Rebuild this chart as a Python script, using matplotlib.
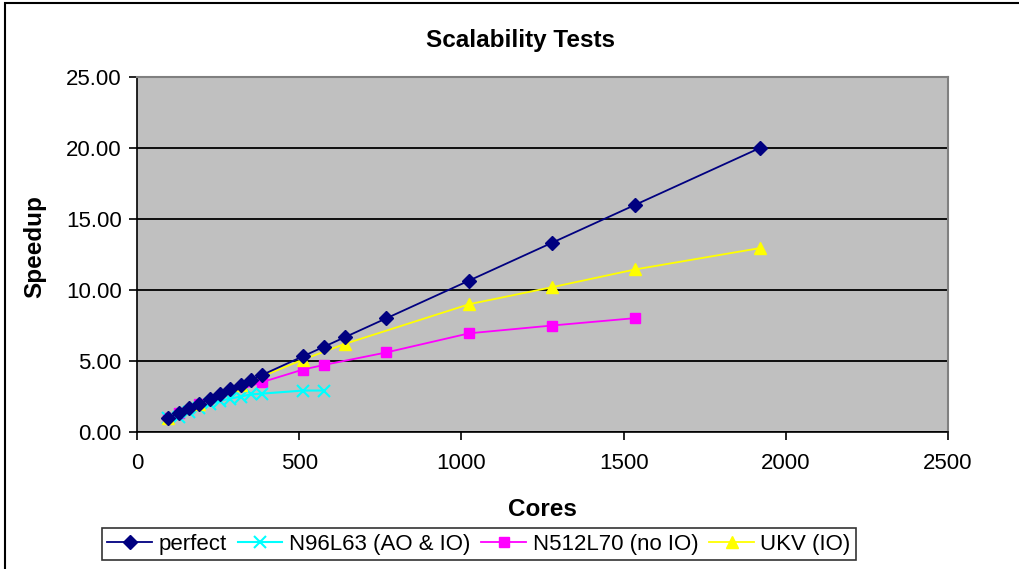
import matplotlib
matplotlib.use('Agg')
import matplotlib.pyplot as plt
from matplotlib.patches import Rectangle
from matplotlib.ticker import FormatStrFormatter, MultipleLocator

plt.rcParams['font.family'] = ['Liberation Sans', 'DejaVu Sans']

# data
perfect_cores = [96, 128, 160, 192, 224, 256, 288, 320, 352, 384, 512, 576, 640, 768, 1024, 1280, 1536, 1920]
perfect_speedup = [c / 96 for c in perfect_cores]

n96_cores = [96, 128, 160, 192, 224, 256, 288, 320, 352, 384, 512, 576]
n96_speedup = [1.00, 1.05, 1.40, 1.70, 1.95, 2.20, 2.35, 2.50, 2.65, 2.70, 2.92, 2.92]

n512_cores = [96, 128, 192, 384, 512, 576, 768, 1024, 1280, 1536]
n512_speedup = [1.00, 1.32, 2.00, 3.50, 4.40, 4.72, 5.60, 6.95, 7.50, 8.02]

ukv_cores = [96, 192, 320, 512, 640, 1024, 1280, 1536, 1920]
ukv_speedup = [1.00, 1.98, 3.30, 5.10, 6.20, 9.00, 10.20, 11.45, 12.95]

W, H = 1019, 569
fig = plt.figure(figsize=(W / 100, H / 100), dpi=100)
ax = fig.add_axes([137 / W, 1 - 432 / H, (948 - 137) / W, (432 - 77) / H])
ax.set_facecolor('#C0C0C0')

# outer chart border
fig.patches.append(Rectangle((5 / W, -0.01), 1.02, 1 - 3 / H + 0.01, transform=fig.transFigure,
                             fill=False, edgecolor='black', linewidth=1.5))

ax.plot(perfect_cores, perfect_speedup, color='#000080', marker='D', markersize=7, linewidth=1.3,
        label='perfect', zorder=5)
ax.plot(n96_cores, n96_speedup, color='#00FFFF', marker='x', markersize=8, markeredgewidth=1.5,
        linewidth=1.5, label='N96L63 (AO & IO)', zorder=4)
ax.plot(n512_cores, n512_speedup, color='#FF00FF', marker='s', markersize=7, linewidth=1.3,
        label='N512L70 (no IO)', zorder=3)
ax.plot(ukv_cores, ukv_speedup, color='#FFFF00', marker='^', markersize=9, linewidth=1.3,
        label='UKV (IO)', zorder=4)

ax.set_xlim(0, 2500)
ax.set_ylim(0, 25)
ax.xaxis.set_major_locator(MultipleLocator(500))
ax.yaxis.set_major_locator(MultipleLocator(5))
ax.yaxis.set_major_formatter(FormatStrFormatter('%.2f'))
ax.grid(True, axis='y', color='black', linewidth=1.3)
ax.set_axisbelow(True)

for side in ['top', 'right']:
    ax.spines[side].set_color('#808080')
    ax.spines[side].set_linewidth(1.5)
for side in ['left', 'bottom']:
    ax.spines[side].set_color('black')
    ax.spines[side].set_linewidth(1.2)
ax.tick_params(direction='out', length=6, width=1.2, labelsize=16, pad=5)
ax.tick_params(axis='x', pad=9)

fig.text(520 / W, 1 - 40 / H, 'Scalability Tests', fontsize=17.5, fontweight='bold',
         ha='center', va='center')
fig.text(542 / W, 1 - 510 / H, 'Cores', fontsize=17.5, fontweight='bold', ha='center', va='center')
fig.text(35 / W, 1 - 247 / H, 'Speedup', fontsize=17.5, fontweight='bold', ha='center', va='center',
         rotation=90)

leg = fig.legend(loc='lower center', bbox_to_anchor=(479 / W, -0.004), ncol=4, fontsize=16,
                 frameon=True, fancybox=False, edgecolor='black', handlelength=2.0,
                 handletextpad=0.3, columnspacing=0.5, borderpad=0.25)
leg.get_frame().set_linewidth(1.2)

fig.savefig('out.png', dpi=100)
